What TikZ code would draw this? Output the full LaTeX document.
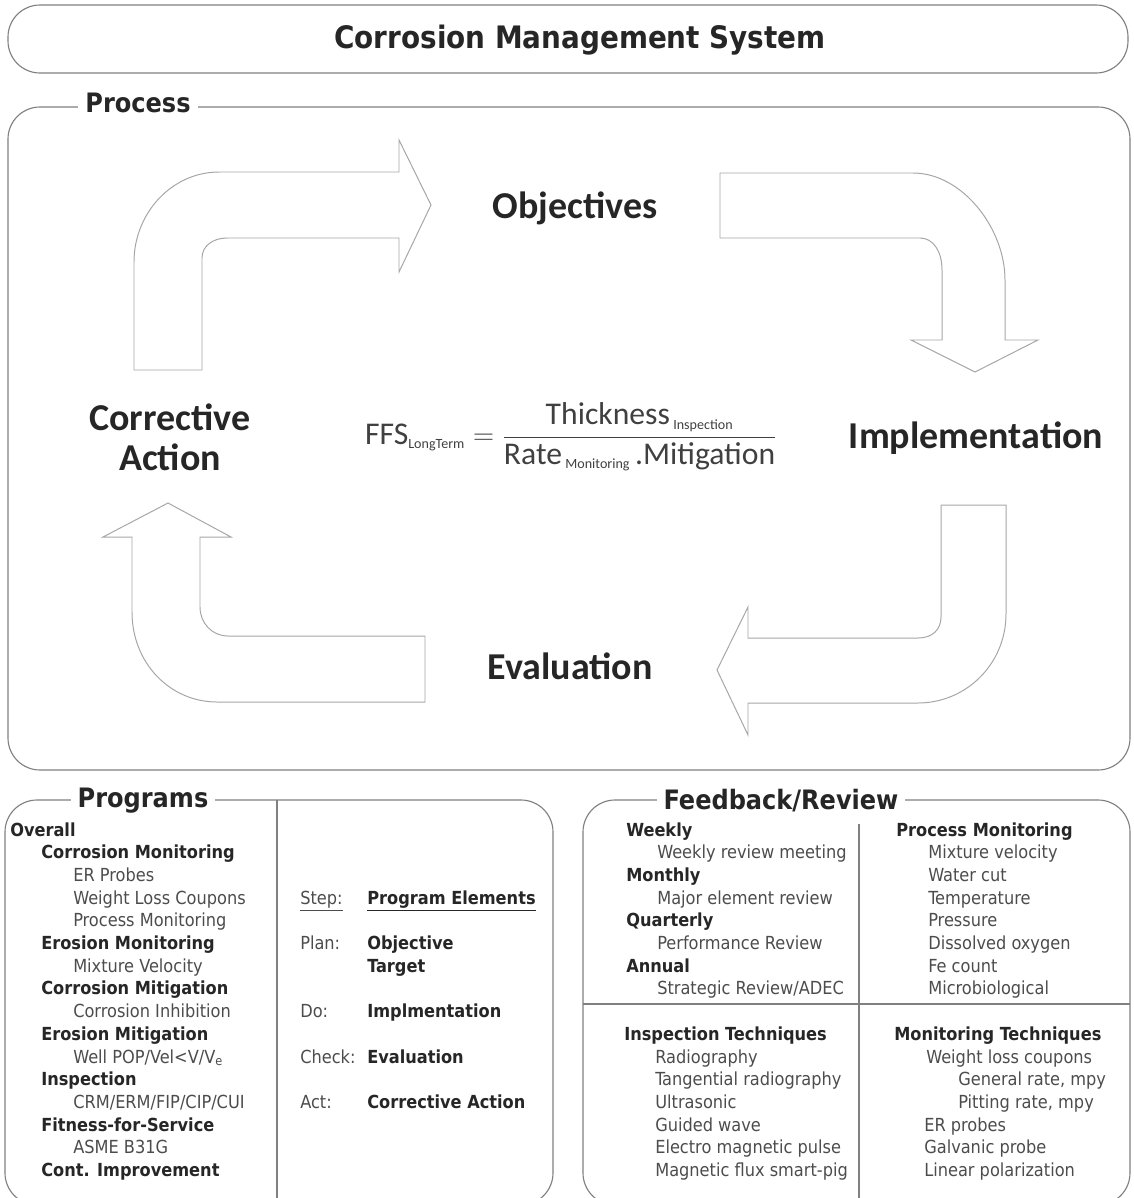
\documentclass[tikz,border=0pt]{standalone}
\usepackage{fontspec}
\setmainfont{DejaVu Sans Condensed}
\newfontfamily\calibri{Carlito}
\begin{document}
\begin{tikzpicture}[x=0.025cm,y=-0.025cm,
  frame/.style={draw=black!50,line width=0.8pt,rounded corners=0.8cm},
  bend arrow/.style={draw=black!35,line width=0.7pt,fill=white},
  legend/.style={fill=white,inner xsep=5pt,inner ysep=1pt,text=black!85,font=\fontsize{19}{22}\selectfont\bfseries},
  stage/.style={text=black!85,align=center,font=\calibri\fontsize{27}{28.5}\selectfont\bfseries},
  bolditem/.style={anchor=base west,inner sep=0pt,text=black!85,font=\fontsize{12.8}{14}\selectfont\bfseries},
  plainitem/.style={anchor=base west,inner sep=0pt,text=black!70,font=\fontsize{12.8}{14}\selectfont}]
\useasboundingbox (0,0) rectangle (1133,1198);
%title
\draw[frame] (8,5) rectangle (1128,73);
\node[text=black!85,font=\fontsize{22}{26}\selectfont\bfseries] (title) at (580,40) {Corrosion Management System};
%process
\draw[frame] (8,107) rectangle (1130,770);
\node[legend] (process) at (138,103) {Process};
%arrows
\draw[bend arrow] (134,370)--(134,262) .. controls (134,213) and (172,172) .. (219,172)--(399,172)--(399,140)--(431,205)--(399,272)--(399,238)--(227,238) .. controls (213,238) and (202,246) .. (202,258)--(202,370)--cycle;
\draw[bend arrow] (720,173)--(913,173) .. controls (962,173) and (1005,228) .. (1005,280)--(1005,340)--(1038,340)--(975,372)--(911,340)--(942,340)--(942,270) .. controls (942,251) and (933,238) .. (920,238)--(720,238)--cycle;
\draw[bend arrow] (941,505)--(1006,505)--(1006,614) .. controls (1006,664) and (966,703) .. (918,703)--(748,703)--(748,735)--(717,670)--(748,607)--(748,638)--(918,638) .. controls (932,638) and (941,630) .. (941,617)--cycle;
\draw[bend arrow] (132,537)--(103,537)--(168,503)--(231,537)--(200,537)--(200,607) .. controls (200,623) and (212,636) .. (228,636)--(425,636)--(425,702)--(217,702) .. controls (170,702) and (132,663) .. (132,612)--cycle;
%stages
\node[stage,anchor=base] (obj) at (575,218) {Objectives};
\node[stage,anchor=base] (impl) at (976,448) {Implementation};
\node[stage,anchor=base] (eval) at (570,679) {Evaluation};
\node[stage] (corr) at (170,437) {Corrective\\Action};
%formula
\node[text=black!75,font=\calibri\fontsize{22.5}{26}\selectfont] (ffs) at (571,437) {$\displaystyle\mbox{FFS}_{\mbox{\fontsize{10}{11}\selectfont LongTerm}} = \frac{\mbox{Thickness}_{\,\mbox{\fontsize{10}{11}\selectfont Inspection}}}{\mbox{Rate}_{\,\mbox{\fontsize{10}{11}\selectfont Monitoring}}\,\mbox{.Mitigation}}$};
%programs
\draw[frame] (5,800) rectangle (553,1205);
\draw[black!50,line width=0.8pt] (277,800)--(277,1198);
\node[legend] (programs) at (143,801) {Programs};
\foreach \k/\x/\t in {0/10/Overall,1/41/Corrosion Monitoring,5/41/Erosion Monitoring,7/41/Corrosion Mitigation,9/41/Erosion Mitigation,11/41/Inspection,13/41/Fitness-for-Service,15/41/Cont. Improvement}
  {\node[bolditem] (prgb\k) at (\x,{836+22.7*\k}) {\t};}
\foreach \k/\x/\t in {2/73/ER Probes,3/73/Weight Loss Coupons,4/73/Process Monitoring,6/73/Mixture Velocity,8/73/Corrosion Inhibition,10/73/{Well POP/Vel<V/V\textsubscript{e}},12/73/{CRM/ERM/FIP/CIP/CUI},14/73/ASME B31G}
  {\node[plainitem] (prgp\k) at (\x,{836+22.7*\k}) {\t};}
%steps
\foreach \k/\t in {3/\underline{Step:},5/Plan:,8/Do:,10/Check:,12/Act:}
  {\node[plainitem] (stp\k) at (300,{836+22.7*\k}) {\t};}
\foreach \k/\t in {3/\underline{Program Elements},5/Objective,6/Target,8/Implmentation,10/Evaluation,12/Corrective Action}
  {\node[bolditem] (elm\k) at (367,{836+22.7*\k}) {\t};}
%feedback
\draw[frame] (583,800) rectangle (1130,1205);
\draw[black!50,line width=0.8pt] (859,824)--(859,1198);
\draw[black!50,line width=0.8pt] (583,1004)--(1130,1004);
\node[legend] (feedback) at (781,801) {Feedback/Review};
\foreach \k/\x/\t in {0/626/Weekly,2/626/Monthly,4/626/Quarterly,6/626/Annual,9/624/Inspection Techniques}
  {\node[bolditem] (fbl\k) at (\x,{836+22.7*\k}) {\t};}
\foreach \k/\x/\t in {1/657/Weekly review meeting,3/657/Major element review,5/657/Performance Review,7/657/{Strategic Review/ADEC},10/655/Radiography,11/655/Tangential radiography,12/655/Ultrasonic,13/655/Guided wave,14/655/Electro magnetic pulse,15/655/Magnetic flux smart-pig}
  {\node[plainitem] (fbi\k) at (\x,{836+22.7*\k}) {\t};}
\foreach \k/\x/\t in {0/896/Process Monitoring,9/894/Monitoring Techniques}
  {\node[bolditem] (fbr\k) at (\x,{836+22.7*\k}) {\t};}
\foreach \k/\x/\t in {1/928/Mixture velocity,2/928/Water cut,3/928/Temperature,4/928/Pressure,5/928/Dissolved oxygen,6/928/Fe count,7/928/Microbiological,10/926/Weight loss coupons,11/958/{General rate, mpy},12/958/{Pitting rate, mpy},13/924/ER probes,14/924/Galvanic probe,15/924/Linear polarization}
  {\node[plainitem] (fbp\k) at (\x,{836+22.7*\k}) {\t};}
\end{tikzpicture}
\end{document}
